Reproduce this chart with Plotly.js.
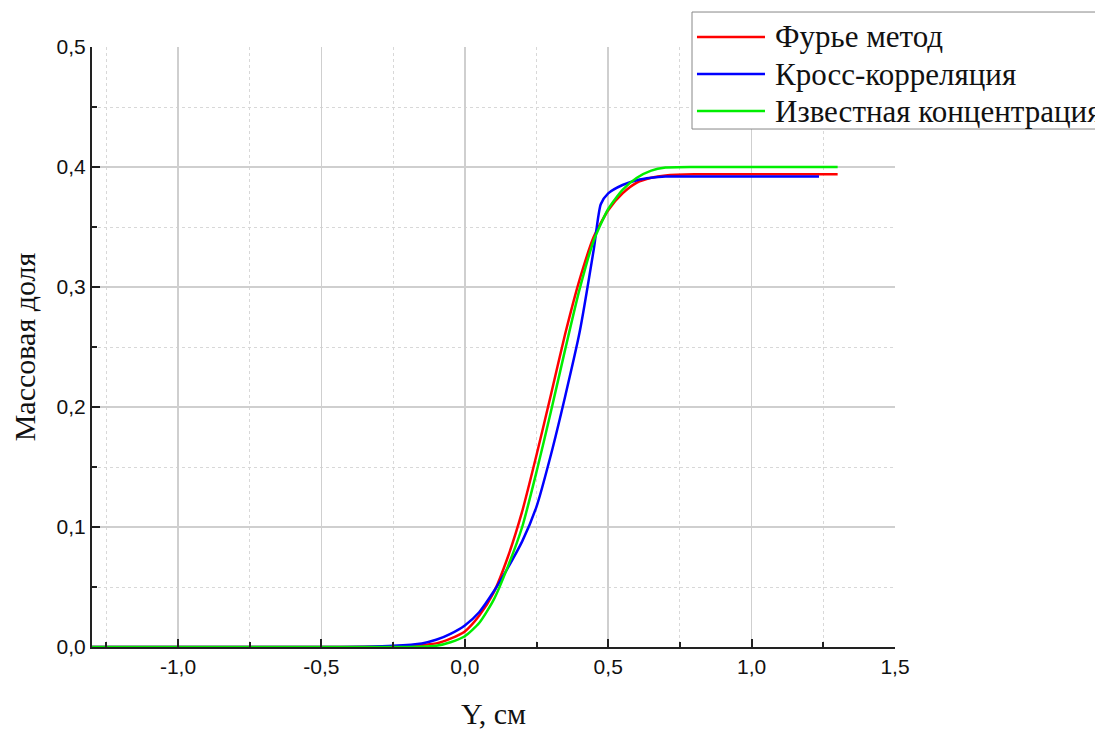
<!DOCTYPE html>
<html>
<head>
<meta charset="utf-8">
<script src="https://cdn.plot.ly/plotly-3.0.1.min.js"></script>
<style>html,body{margin:0;padding:0;background:#fff;}#chart{width:1095px;height:731px;}</style>
</head>
<body>
<div id="chart"></div>
<script>
// ---- data ----
const seriesNames = ['Фурье метод', 'Кросс-корреляция', 'Известная концентрация'];

const fourierX = [-1.3, -0.5, -0.3, -0.2, -0.1, -0.05, 0, 0.05, 0.1, 0.15, 0.2, 0.25, 0.3, 0.35, 0.4, 0.45, 0.5, 0.55, 0.6, 0.65, 0.7, 0.8, 0.9, 1.0, 1.1, 1.2, 1.3];
const fourierY = [0, 0, 0.0003, 0.001, 0.003, 0.007, 0.013, 0.026, 0.045, 0.075, 0.113, 0.16, 0.21, 0.261, 0.306, 0.342, 0.364, 0.378, 0.387, 0.391, 0.393, 0.394, 0.394, 0.394, 0.394, 0.394, 0.394];

const crossX = [-1.3, -0.5, -0.35, -0.25, -0.15, -0.1, -0.05, 0, 0.05, 0.1, 0.15, 0.2, 0.25, 0.3, 0.35, 0.4, 0.45, 0.474, 0.5, 0.55, 0.6, 0.65, 0.7, 0.8, 0.9, 1.0, 1.1, 1.235];
const crossY = [0, 0, 0.0003, 0.001, 0.003, 0.006, 0.011, 0.018, 0.029, 0.046, 0.066, 0.088, 0.117, 0.16, 0.209, 0.262, 0.332, 0.369, 0.378, 0.385, 0.389, 0.391, 0.392, 0.392, 0.392, 0.392, 0.392, 0.392];

const knownX = [-1.3, -0.5, -0.2, -0.1, -0.05, 0, 0.05, 0.1, 0.15, 0.2, 0.25, 0.3, 0.35, 0.4, 0.45, 0.5, 0.55, 0.6, 0.65, 0.7, 0.8, 0.9, 1.0, 1.1, 1.2, 1.3];
const knownY = [0, 0, 0, 0.001, 0.004, 0.009, 0.02, 0.039, 0.067, 0.1, 0.146, 0.196, 0.248, 0.298, 0.339, 0.365, 0.381, 0.391, 0.397, 0.3995, 0.4, 0.4, 0.4, 0.4, 0.4, 0.4];

const xTickVals = [-1, -0.5, 0, 0.5, 1, 1.5];
const xTickText = ['-1,0', '-0,5', '0,0', '0,5', '1,0', '1,5'];
const xMinorVals = [-1.25, -0.75, -0.25, 0.25, 0.75, 1.25];
const yTickVals = [0, 0.1, 0.2, 0.3, 0.4, 0.5];
const yTickText = ['0,0', '0,1', '0,2', '0,3', '0,4', '0,5'];
const yMinorVals = [0.05, 0.15, 0.25, 0.35, 0.45];
const xTitle = 'Y, см';
const yTitle = 'Массовая доля';

// ---- styling ----
const colors = ['#ff0000', '#0000ff', '#00ee00'];
const traces = [
  {x: fourierX, y: fourierY, name: seriesNames[0]},
  {x: crossX, y: crossY, name: seriesNames[1]},
  {x: knownX, y: knownY, name: seriesNames[2]}
].map((t, i) => Object.assign(t, {
  type: 'scatter', mode: 'lines', showlegend: false,
  line: {color: colors[i], width: 2.5, shape: 'spline', smoothing: 0.6}
}));

const tickFont = {family: 'Liberation Sans, Arial, sans-serif', size: 21, color: '#111'};
const serif = 'Liberation Serif, Times New Roman, serif';
const titleFont = {family: serif, size: 30, color: '#111'};

function axisCommon(minorVals) {
  return {
    showline: true, linecolor: '#222', linewidth: 2, mirror: false,
    ticks: 'inside', ticklen: 8, tickwidth: 2, tickcolor: '#222',
    showgrid: true, gridcolor: '#cfcfcf', gridwidth: 1.5,
    zeroline: false, tickfont: tickFont, tickmode: 'array',
    minor: {tickmode: 'array', tickvals: minorVals, ticks: 'inside', ticklen: 5, tickwidth: 2, tickcolor: '#222',
            showgrid: true, gridcolor: '#d8d8d8', gridwidth: 1, griddash: 'dot'}
  };
}

// Legend box drawn in paper coordinates (box extends past the right edge, as in the reference)
const legendRows = [1.0167, 0.955, 0.8933];
const shapes = [{
  type: 'rect', xref: 'paper', yref: 'paper', x0: 0.7472, x1: 1.26, y0: 0.8633, y1: 1.0583,
  line: {color: '#888', width: 1}, fillcolor: '#fff', layer: 'above'
}];
const annotations = [];
seriesNames.forEach((name, i) => {
  shapes.push({type: 'line', xref: 'paper', yref: 'paper', x0: 0.7534, x1: 0.8381,
               y0: legendRows[i], y1: legendRows[i], line: {color: colors[i], width: 2.5}, layer: 'above'});
  annotations.push({xref: 'paper', yref: 'paper', x: 0.8481, y: legendRows[i], xanchor: 'left', yanchor: 'middle',
                    text: name, showarrow: false, font: {family: serif, size: 31, color: '#111'}});
});

const layout = {
  width: 1095, height: 731,
  margin: {l: 92, r: 200, t: 47, b: 84, autoexpand: false},
  paper_bgcolor: '#fff', plot_bgcolor: '#fff',
  showlegend: false,
  xaxis: Object.assign(axisCommon(xMinorVals), {
    range: [-1.3, 1.5], tickvals: xTickVals, ticktext: xTickText,
    title: {text: xTitle, font: titleFont, standoff: 26}
  }),
  yaxis: Object.assign(axisCommon(yMinorVals), {
    range: [0, 0.5], tickvals: yTickVals, ticktext: yTickText,
    title: {text: yTitle, font: titleFont, standoff: 12}
  }),
  shapes: shapes,
  annotations: annotations
};

Plotly.newPlot('chart', traces, layout, {displayModeBar: false, staticPlot: true});
</script>
</body>
</html>
